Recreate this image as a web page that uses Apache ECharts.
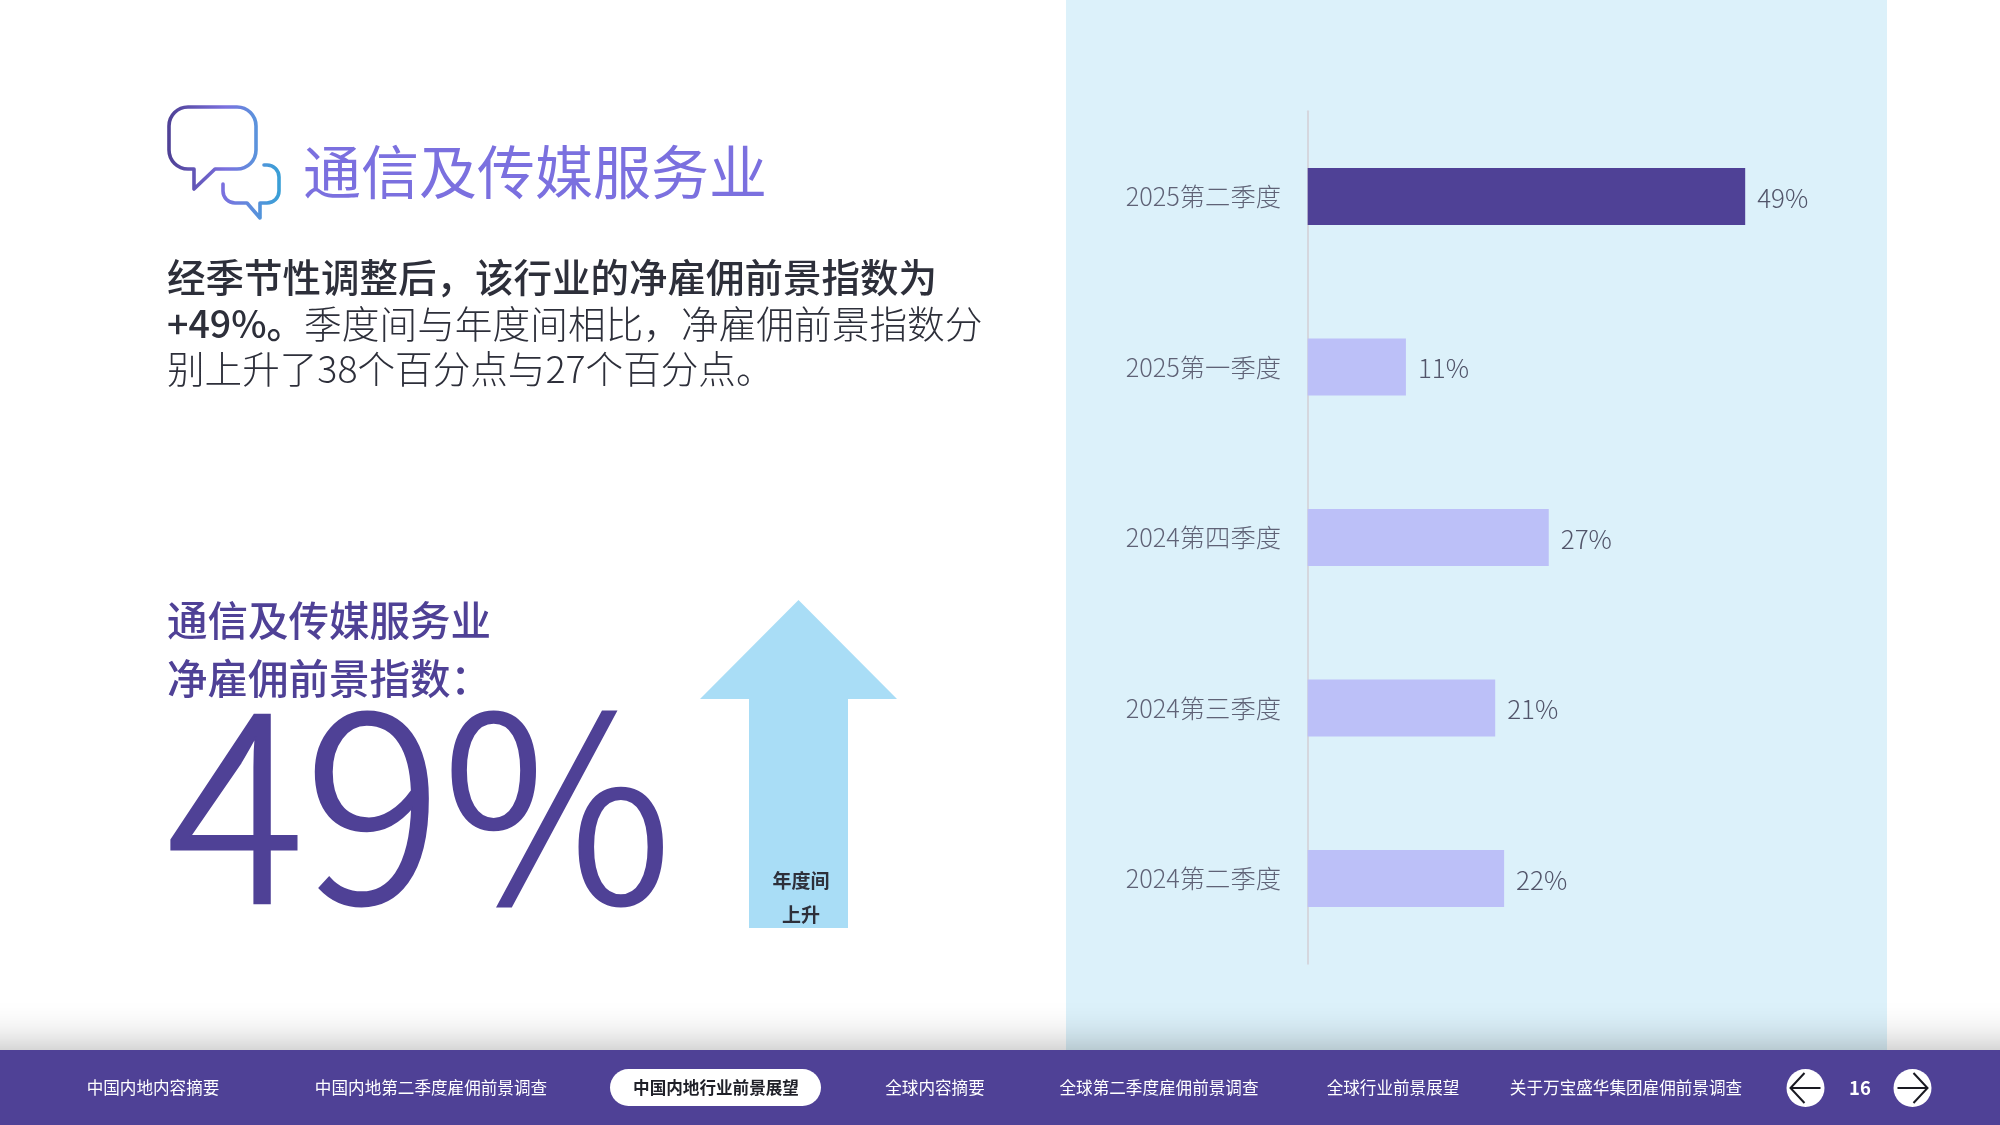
<!DOCTYPE html>
<html lang="zh"><head><meta charset="utf-8">
<style>html,body{margin:0;padding:0;background:#fff}#c{width:2000px;height:1125px}</style>
<script src="https://cdn.jsdelivr.net/npm/echarts@6/dist/echarts.min.js"></script></head>
<body><div id="c"></div>
<script>
const categories = ['2025第二季度','2025第一季度','2024第四季度','2024第三季度','2024第二季度'];
const values = [49, 11, 27, 21, 22];
const titleText = '通信及传媒服务业';
const paraBold1 = '经季节性调整后，该行业的净雇佣前景指数为';
const paraBold2 = '+49%。';
const paraRest2 = '季度间与年度间相比，净雇佣前景指数分';
const paraRest3 = '别上升了38个百分点与27个百分点。';
const subLines = ['通信及传媒服务业','净雇佣前景指数：'];
const bigValue = '49%';
const arrowLines = ['年度间','上升'];
const navItems = ['中国内地内容摘要','中国内地第二季度雇佣前景调查','中国内地行业前景展望','全球内容摘要','全球第二季度雇佣前景调查','全球行业前景展望','关于万宝盛华集团雇佣前景调查'];
const navCentres = [153,431,716,935,1159,1393,1626];
const activeNav = 2;
const pageNo = '16';

echarts.graphic.registerShape('bubbleBig', echarts.graphic.extendPath('M188 107H237a19 19 0 0 1 19 19V150a19 19 0 0 1-19 19H215L194 189V169H188a19 19 0 0 1-19-19V126a19 19 0 0 1 19-19Z'));
echarts.graphic.registerShape('bubbleSmall', echarts.graphic.extendPath('M264 165h3a12 12 0 0 1 12 12V191a12 12 0 0 1-12 12h-7V218L247 203H235a12 12 0 0 1-12-12V184'));

const FONT = '"Noto Sans CJK SC","Noto Sans",sans-serif';
const PURPLE = '#4f4196', LILAC = '#bcc0f8', INK = '#2d2f3a';
const t = (x,y,text,size,fill,extra={}) => ({type:'text',x,y,silent:true,z:5,style:Object.assign({text,fontFamily:FONT,fontSize:size,fill,verticalAlign:'middle'},extra)});
const g = [];
g.push({type:'rect',z:-3,silent:true,shape:{x:1066,y:0,width:821,height:1050},style:{fill:'#dcf1fa'}});
g.push({type:'rect',z:-1,silent:true,shape:{x:-60,y:1050,width:2120,height:75},style:{fill:PURPLE,shadowBlur:45,shadowColor:'rgba(0,0,0,0.32)'}});
g.push({type:'bubbleBig',z:5,silent:true,shape:{},
  style:{fill:'none',lineWidth:3.6,lineJoin:'round',stroke:{type:'linear',x:169,y:0,x2:256,y2:0,global:true,colorStops:[{offset:0,color:'#4f4196'},{offset:.65,color:'#7b70df'},{offset:1,color:'#5b93dc'}]}}});
g.push({type:'bubbleSmall',z:5,silent:true,shape:{},
  style:{fill:'none',lineWidth:3.6,lineCap:'round',lineJoin:'round',stroke:{type:'linear',x:223,y:0,x2:279,y2:0,global:true,colorStops:[{offset:0,color:'#7b70df'},{offset:.55,color:'#5b8fdc'},{offset:1,color:'#3a9fd6'}]}}});
g.push(t(303,172,titleText,58,'#7b70df'));
g.push(t(167,277.5,paraBold1,38.5,INK,{fontWeight:500}));
g.push(t(167,323.5,'',38.4,INK,{text:'{b|'+paraBold2+'}{r|'+paraRest2+'}',rich:{b:{fontFamily:FONT,fontSize:37.6,fontWeight:500,fill:INK},r:{fontFamily:FONT,fontSize:37.7,fontWeight:300,fill:INK}}}));
g.push(t(167,369,paraRest3,37.6,INK,{fontWeight:300}));
g.push(t(167,621,subLines[0],40.5,PURPLE,{fontWeight:500}));
g.push(t(167,679,subLines[1],40.5,PURPLE,{fontWeight:500}));
g.push(t(167,805,bigValue,257,PURPLE,{fontWeight:300,stroke:PURPLE,lineWidth:3}));
g.push({type:'polygon',z:1,silent:true,shape:{points:[[798.5,600],[897,699],[848,699],[848,928],[749,928],[749,699],[700,699]]},style:{fill:'#a9ddf6'}});
g.push(t(801,881,arrowLines[0],19,INK,{fontWeight:700,align:'center'}));
g.push(t(801,915,arrowLines[1],19,INK,{fontWeight:700,align:'center'}));
g.push({type:'rect',z:3,silent:true,shape:{x:610,y:1069,width:211,height:37,r:18.5},style:{fill:'#fff'}});
navItems.forEach((n,i)=>g.push(t(navCentres[i],1088,n,16.6,i===activeNav?'#1f2028':'#fff',{align:'center',fontWeight:i===activeNav?700:400})));
[[1805.5,-1],[1912.5,1]].forEach(([cx,d])=>{
  g.push({type:'circle',z:3,silent:true,shape:{cx,cy:1088,r:19},style:{fill:'#fff'}});
  g.push({type:'polyline',z:4,silent:true,shape:{points:[[cx-15*d,1088],[cx+15*d,1088]]},style:{stroke:'#1a1a22',lineWidth:2,fill:'none'}});
  g.push({type:'polyline',z:4,silent:true,shape:{points:[[cx+1*d,1073],[cx+15*d,1088],[cx+1*d,1103]]},style:{stroke:'#1a1a22',lineWidth:2,fill:'none'}});
});
g.push(t(1860,1088,pageNo,18.5,'#fff',{fontWeight:700,align:'center'}));

const chart = echarts.init(document.getElementById('c'),null,{width:2000,height:1125});
chart.setOption({
  animation:false,
  backgroundColor:'#fff',
  graphic:{elements:g},
  grid:{left:1307.7,top:111.3,width:535.7,height:852.5,containLabel:false},
  xAxis:{type:'value',min:0,max:60,show:false},
  yAxis:{type:'category',inverse:true,data:categories,
    axisLine:{show:true,lineStyle:{color:'#d5d7de',width:2}},axisTick:{show:false},
    axisLabel:{margin:26.7,fontFamily:FONT,fontSize:25.3,fontWeight:300,color:'#5f6276',padding:[3,0,0,0]}},
  series:[{type:'bar',data:values,barWidth:57,z:3,
    itemStyle:{color:p=>p.dataIndex===0?PURPLE:LILAC},
    label:{show:true,position:'right',distance:12,formatter:'{c}%',fontFamily:FONT,fontSize:26,fontWeight:300,color:'#52556a',offset:[0,1.5]}}]
});
</script></body></html>
